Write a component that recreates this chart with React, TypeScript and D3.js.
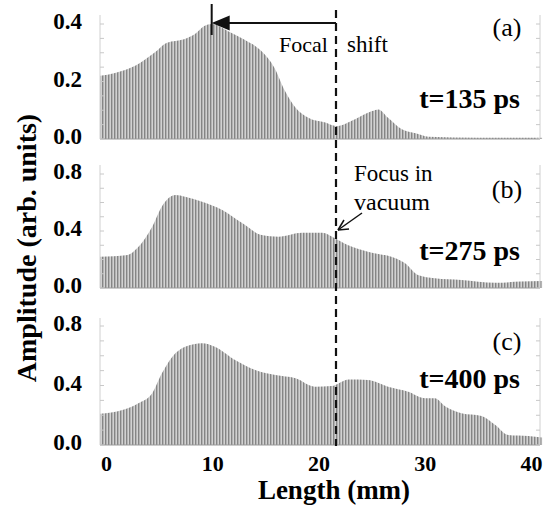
import React from 'react'
import * as d3 from 'd3'

// envelope of the field amplitude along the propagation length (mm)
const lengthA = [-0.6, 0.8, 2.7, 4.5, 5.7, 7.3, 8.3, 9.2, 9.9, 11.4, 13.0, 14.6, 15.8, 16.8, 17.8, 19.0, 20.6, 21.6, 23.4, 25.0, 25.6, 26.5, 27.8, 29.1, 30.3, 35, 41]
const ampA = [0.22, 0.23, 0.255, 0.30, 0.335, 0.347, 0.364, 0.393, 0.40, 0.376, 0.345, 0.305, 0.248, 0.167, 0.109, 0.074, 0.057, 0.045, 0.069, 0.097, 0.103, 0.074, 0.034, 0.02, 0.008, 0.004, 0.004]

const lengthB = [-0.6, 2.0, 2.9, 4.3, 5.2, 6.5, 7.4, 9.0, 10.9, 12.8, 14.6, 16.2, 18.4, 20.3, 21.5, 22.7, 24.6, 27.2, 28.1, 29.3, 30.9, 33.4, 36.6, 39, 41]
const ampB = [0.22, 0.232, 0.28, 0.43, 0.571, 0.653, 0.641, 0.606, 0.548, 0.454, 0.372, 0.36, 0.388, 0.388, 0.349, 0.302, 0.255, 0.208, 0.173, 0.091, 0.068, 0.056, 0.037, 0.045, 0.05]

const lengthC = [-0.6, 1.5, 3.0, 4.3, 5.2, 6.2, 7.4, 9.0, 10.2, 12.1, 14.0, 15.9, 17.8, 19.6, 21.2, 22.8, 24.6, 26.5, 28.4, 30.0, 30.9, 31.9, 33.4, 35.3, 36.6, 37.8, 39.7, 41]
const ampC = [0.21, 0.235, 0.28, 0.348, 0.48, 0.594, 0.66, 0.684, 0.66, 0.571, 0.504, 0.47, 0.448, 0.392, 0.396, 0.44, 0.437, 0.392, 0.358, 0.314, 0.314, 0.258, 0.213, 0.195, 0.134, 0.067, 0.06, 0.05]

const xTicks = [0, 10, 20, 30, 40]
const yTicksA = [0, 0.2, 0.4]
const yTicksBC = [0, 0.4, 0.8]

const panelLabels = ['(a)', '(b)', '(c)']
const timeLabels = ['t=135 ps', 't=275 ps', 't=400 ps']
const focusVacuum = 21.6
const focusShifted = 9.9

const serif = '"Liberation Serif", "Times New Roman", serif'

const x = d3.scaleLinear().domain([0, 40]).range([106.5, 531.5])
const xLeft = 100
const xRight = 540

const panels = [
  {len: lengthA, amp: ampA, ticks: yTicksA, y: d3.scaleLinear().domain([0, 0.4]).range([139, 24]), top: 15, labY: 36, tY: 108},
  {len: lengthB, amp: ampB, ticks: yTicksBC, y: d3.scaleLinear().domain([0, 0.8]).range([288, 174]), top: 165, labY: 198, tY: 260},
  {len: lengthC, amp: ampC, ticks: yTicksBC, y: d3.scaleLinear().domain([0, 0.8]).range([445, 326]), top: 318, labY: 350, tY: 388},
]

function Panel({p, i}: {p: any, i: number}) {
  const pts = p.len.map((d: number, k: number) => [d, p.amp[k]])
  const area = d3.area<number[]>()
    .curve(d3.curveMonotoneX)
    .x(d => x(d[0]))
    .y0(p.y(0))
    .y1(d => p.y(d[1]))
  const base = p.y(0)
  const minor = d3.range(0, p.y.invert(p.top) + 1e-6, p.y.domain()[1] / 8)
  return (
    <g>
      <path d={area(pts) || ''} fill="url(#stripes)" />
      <line x1={xLeft} x2={xRight} y1={base} y2={base} stroke="#999" strokeWidth={1} />
      {/* faint frame with minor ticks */}
      <line x1={xLeft} x2={xLeft} y1={p.top} y2={base} stroke="#d0d0d0" />
      <line x1={xRight} x2={xRight} y1={p.top} y2={base} stroke="#d0d0d0" />
      {minor.map((v: number, k: number) => (
        <g key={k}>
          <line x1={xLeft} x2={xLeft + 4} y1={p.y(v)} y2={p.y(v)} stroke="#c8c8c8" />
          <line x1={xRight - 4} x2={xRight} y1={p.y(v)} y2={p.y(v)} stroke="#c8c8c8" />
        </g>
      ))}
      {p.ticks.map((t: number) => (
        <text key={t} x={82} y={p.y(t) - 3} dy="0.35em" textAnchor="end"
          fontFamily={serif} fontWeight="bold" fontSize={23}>{t.toFixed(1)}</text>
      ))}
      <text x={507} y={p.labY} textAnchor="middle" fontFamily={serif} fontSize={26}>{panelLabels[i]}</text>
      <text x={520} y={p.tY} textAnchor="end" fontFamily={serif} fontWeight="bold" fontSize={28}>{timeLabels[i]}</text>
    </g>
  )
}

export default function App() {
  const fx = x(focusVacuum)
  const sx = x(focusShifted)
  return (
    <svg width={544} height={508} style={{position: 'absolute', left: 0, top: 0, background: '#fff'}}>
      <defs>
        <pattern id="stripes" width={3} height={10} patternUnits="userSpaceOnUse">
          <rect width={3} height={10} fill="#d2d2d2" />
          <rect x={0} width={1.4} height={10} fill="#858585" />
        </pattern>
      </defs>
      {panels.map((p, i) => <Panel key={i} p={p} i={i} />)}

      {/* focal position in vacuum */}
      <line x1={fx} x2={fx} y1={10} y2={446} stroke="#111" strokeWidth={2.2} strokeDasharray="8,5" />

      {/* focal shift arrow */}
      <line x1={sx} x2={sx} y1={4} y2={35} stroke="#111" strokeWidth={2} />
      <line x1={sx + 16} x2={fx} y1={23} y2={23} stroke="#111" strokeWidth={2} />
      <path d={`M${sx},23 L${sx + 18},15.5 L${sx + 18},30.5 Z`} fill="#111" />
      <text x={279} y={52} fontFamily={serif} fontSize={22}>Focal</text>
      <text x={347} y={52} fontFamily={serif} fontSize={23}>shift</text>

      {/* focus in vacuum annotation */}
      <text x={354} y={181} fontFamily={serif} fontSize={23}>Focus in</text>
      <text x={354} y={210} fontFamily={serif} fontSize={24}>vacuum</text>
      <line x1={fx + 2} y1={230} x2={fx + 26} y2={213} stroke="#111" strokeWidth={1.5} />
      <line x1={fx + 2} y1={230} x2={fx + 8} y2={220} stroke="#111" strokeWidth={1.5} />
      <line x1={fx + 2} y1={230} x2={fx + 13} y2={229} stroke="#111" strokeWidth={1.5} />

      {xTicks.map(t => (
        <text key={t} x={x(t)} y={471} textAnchor="middle" fontFamily={serif} fontWeight="bold" fontSize={22}>{t}</text>
      ))}
      <text x={334} y={499} textAnchor="middle" fontFamily={serif} fontWeight="bold" fontSize={27}>Length (mm)</text>
      <text transform="translate(36,248) rotate(-90)" textAnchor="middle" fontFamily={serif} fontWeight="bold" fontSize={28}>Amplitude (arb. units)</text>
    </svg>
  )
}
